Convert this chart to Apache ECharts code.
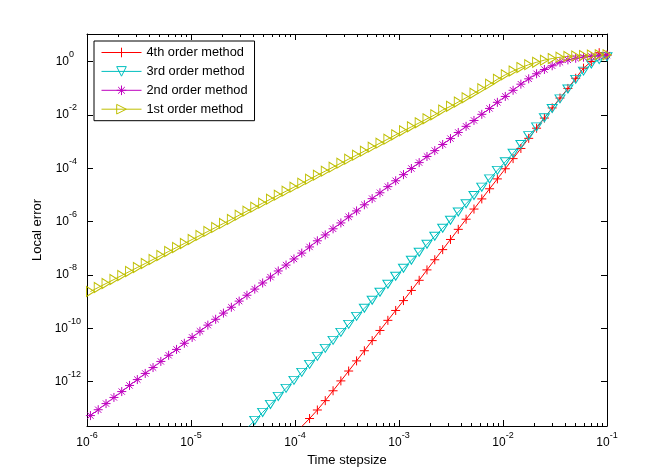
<!DOCTYPE html>
<html>
<head>
<meta charset="utf-8">
<title>Local error vs time stepsize</title>
<script src="https://cdn.jsdelivr.net/npm/echarts@6/dist/echarts.min.js"></script>
<style>
  html, body { margin: 0; padding: 0; background: #fff; }
  #chart { width: 671px; height: 472px; }
</style>
</head>
<body>
<div id="chart"></div>
<script>
// log10 of the time stepsize, one entry per marker (largest step first)
var log10Step = [
  -1.000, -1.075, -1.151, -1.226, -1.301, -1.376, -1.452, -1.527, -1.602, -1.677,
  -1.753, -1.828, -1.903, -1.978, -2.054, -2.129, -2.204, -2.279, -2.355, -2.430,
  -2.505, -2.580, -2.656, -2.731, -2.806, -2.881, -2.957, -3.032, -3.107, -3.183,
  -3.258, -3.333, -3.408, -3.484, -3.559, -3.634, -3.709, -3.785, -3.860, -3.935,
  -4.010, -4.086, -4.161, -4.236, -4.311, -4.387, -4.462, -4.537, -4.612, -4.688,
  -4.763, -4.838, -4.914, -4.989, -5.064, -5.139, -5.215, -5.290, -5.365, -5.440,
  -5.516, -5.591, -5.666, -5.741, -5.817, -5.892, -5.967
];

// log10 of the local error (same order as log10Step)
var log10Err4 = [
  0.24, 0.33, 0.00, -0.25, -0.63, -1.01, -1.37, -1.74, -2.12, -2.50,
  -2.88, -3.26, -3.64, -4.02, -4.40, -4.77, -5.15, -5.53, -5.91, -6.29,
  -6.67, -7.05, -7.43, -7.81, -8.20, -8.58, -8.96, -9.33, -9.70, -10.08,
  -10.46, -10.84, -11.22, -11.60, -11.97, -12.34, -12.71, -13.06, -13.38, -13.68,
  -14.06
];
var log10Err3 = [
  0.18, 0.07, -0.09, -0.36, -0.67, -1.03, -1.40, -1.76, -2.11, -2.45,
  -2.78, -3.11, -3.44, -3.76, -4.08, -4.40, -4.71, -5.02, -5.33, -5.64,
  -5.95, -6.25, -6.55, -6.85, -7.15, -7.45, -7.75, -8.05, -8.35, -8.65,
  -8.95, -9.25, -9.55, -9.85, -10.15, -10.45, -10.75, -11.05, -11.35, -11.65,
  -11.95, -12.25, -12.55, -12.85, -13.15, -13.45, -13.75, -14.05
];
var log10Err2 = [
  0.24, 0.21, 0.19, 0.16, 0.12, 0.06, -0.03, -0.16, -0.30, -0.46,
  -0.65, -0.85, -1.08, -1.31, -1.53, -1.76, -1.98, -2.21, -2.43, -2.66,
  -2.89, -3.11, -3.34, -3.56, -3.79, -4.01, -4.24, -4.47, -4.69, -4.92,
  -5.14, -5.37, -5.60, -5.82, -6.05, -6.27, -6.50, -6.72, -6.95, -7.18,
  -7.40, -7.63, -7.85, -8.08, -8.30, -8.53, -8.76, -8.98, -9.21, -9.43,
  -9.66, -9.88, -10.11, -10.34, -10.56, -10.79, -11.01, -11.24, -11.47, -11.69,
  -11.92, -12.14, -12.37, -12.59, -12.82, -13.05, -13.27
];
var log10Err1 = [
  0.25, 0.25, 0.24, 0.22, 0.21, 0.19, 0.16, 0.11, 0.05, -0.03,
  -0.12, -0.23, -0.36, -0.50, -0.67, -0.85, -1.02, -1.19, -1.36, -1.52,
  -1.68, -1.82, -2.00, -2.15, -2.30, -2.45, -2.60, -2.75, -2.91, -3.06,
  -3.21, -3.36, -3.51, -3.66, -3.81, -3.96, -4.11, -4.26, -4.41, -4.56,
  -4.71, -4.86, -5.01, -5.16, -5.31, -5.46, -5.61, -5.76, -5.92, -6.07,
  -6.22, -6.37, -6.52, -6.67, -6.82, -6.97, -7.12, -7.27, -7.42, -7.57,
  -7.72, -7.87, -8.02, -8.17, -8.32, -8.47, -8.62
];

var seriesNames = ['4th order method', '3rd order method', '2nd order method', '1st order method'];
var yTicks = [-12, -10, -8, -6, -4, -2, 0];

var FONT = '"Liberation Sans", Arial, Helvetica, sans-serif';

// minor ticks at 2..9 inside every decade
var xMinor = [];
for (var d = -6; d < -1; d++) {
  for (var m = 2; m <= 9; m++) xMinor.push(d + Math.log10(m));
}

function pairs(ys) {
  return ys.map(function (y, i) { return [log10Step[i], y]; });
}

function powLabel(v) {
  return '{b|10}{s|' + Math.round(v) + '}';
}

// left axis: keep the "10" roughly in one column, exponent hangs to the right
function powLabelY(v) {
  var e = String(Math.round(v));
  return '{b|10}{s' + e.length + '|' + e + '}';
}

var baseTok = { fontSize: 12, fontFamily: FONT, color: '#000', lineHeight: 23, verticalAlign: 'middle' };
var supTok = { fontSize: 9, fontFamily: FONT, color: '#000', lineHeight: 9, verticalAlign: 'top' };

var richX = { b: baseTok, s: supTok };
var richY = {
  b: baseTok,
  s1: Object.assign({}, supTok, { padding: [0, 9, 0, 0] }),
  s2: Object.assign({}, supTok, { padding: [0, 6, 0, 0] }),
  s3: Object.assign({}, supTok, { padding: [0, 2, 0, 0] })
};

var black = { color: '#000', width: 1 };

function xAxisDef(pos, minor) {
  return {
    type: 'value', position: pos, min: -6, max: -1, interval: 1,
    axisLine: { show: !minor, onZero: false, lineStyle: black },
    axisTick: minor
      ? { show: true, inside: true, length: 3, customValues: xMinor, lineStyle: black }
      : { show: true, inside: true, length: 6, lineStyle: black },
    axisLabel: (pos === 'bottom' && !minor)
      ? { show: true, margin: 5, formatter: powLabel, rich: richX }
      : { show: false },
    splitLine: { show: false },
    name: (pos === 'bottom' && !minor) ? 'Time stepsize' : '',
    nameLocation: 'middle', nameGap: 28,
    nameTextStyle: { fontSize: 13, fontFamily: FONT, color: '#000' }
  };
}

function yAxisDef(pos) {
  return {
    type: 'value', position: pos, min: -13.66, max: 1.03,
    axisLine: { show: true, onZero: false, lineStyle: black },
    axisTick: { show: true, inside: true, length: 6, customValues: yTicks, lineStyle: black },
    axisLabel: pos === 'left'
      ? { show: true, margin: 4, customValues: yTicks, formatter: powLabelY, rich: richY }
      : { show: false },
    splitLine: { show: false },
    name: pos === 'left' ? 'Local error' : '',
    nameLocation: 'middle', nameGap: 32,
    nameTextStyle: { fontSize: 13, fontFamily: FONT, color: '#000' }
  };
}

function lineSeries(name, ys, color, symbol, size, hollow) {
  return {
    name: name, type: 'line', data: pairs(ys),
    symbol: symbol, symbolSize: size, showAllSymbol: true,
    lineStyle: { color: color, width: 1 },
    itemStyle: { color: hollow ? 'rgba(0,0,0,0)' : color, borderColor: color, borderWidth: 1 },
    clip: true, silent: true
  };
}

var chart = echarts.init(document.getElementById('chart'), null, { renderer: 'canvas' });
chart.setOption({
  backgroundColor: '#fff',
  animation: false,
  grid: { left: 87, right: 64, top: 34, bottom: 44 },
  legend: {
    orient: 'vertical', left: 94, top: 41,
    itemWidth: 40, itemHeight: 12, itemGap: 5.9,
    padding: [5, 7, 5, 7],
    borderColor: '#000', borderWidth: 1, backgroundColor: '#fff',
    lineStyle: { width: 1 },
    itemStyle: { borderWidth: 1 },
    textStyle: { fontSize: 12.8, fontFamily: FONT, color: '#000', lineHeight: 12 },
    data: seriesNames, selectedMode: false
  },
  xAxis: [xAxisDef('bottom', false), xAxisDef('bottom', true), xAxisDef('top', false), xAxisDef('top', true)],
  yAxis: [yAxisDef('left'), yAxisDef('right')],
  series: [
    lineSeries(seriesNames[0], log10Err4, '#ff0000', 'path://M5,0V10M0,5H10', 9, false),
    lineSeries(seriesNames[1], log10Err3, '#00bfbf', 'path://M0,0H10L5,8.66Z', [10, 8], true),
    lineSeries(seriesNames[2], log10Err2, '#bf00bf', 'path://M5,0V10M0,5H10M1.5,1.5L8.5,8.5M1.5,8.5L8.5,1.5', 9, false),
    lineSeries(seriesNames[3], log10Err1, '#bfbf00', 'path://M0,0L8.66,5L0,10Z', [8, 10], true)
  ]
});
</script>
</body>
</html>
